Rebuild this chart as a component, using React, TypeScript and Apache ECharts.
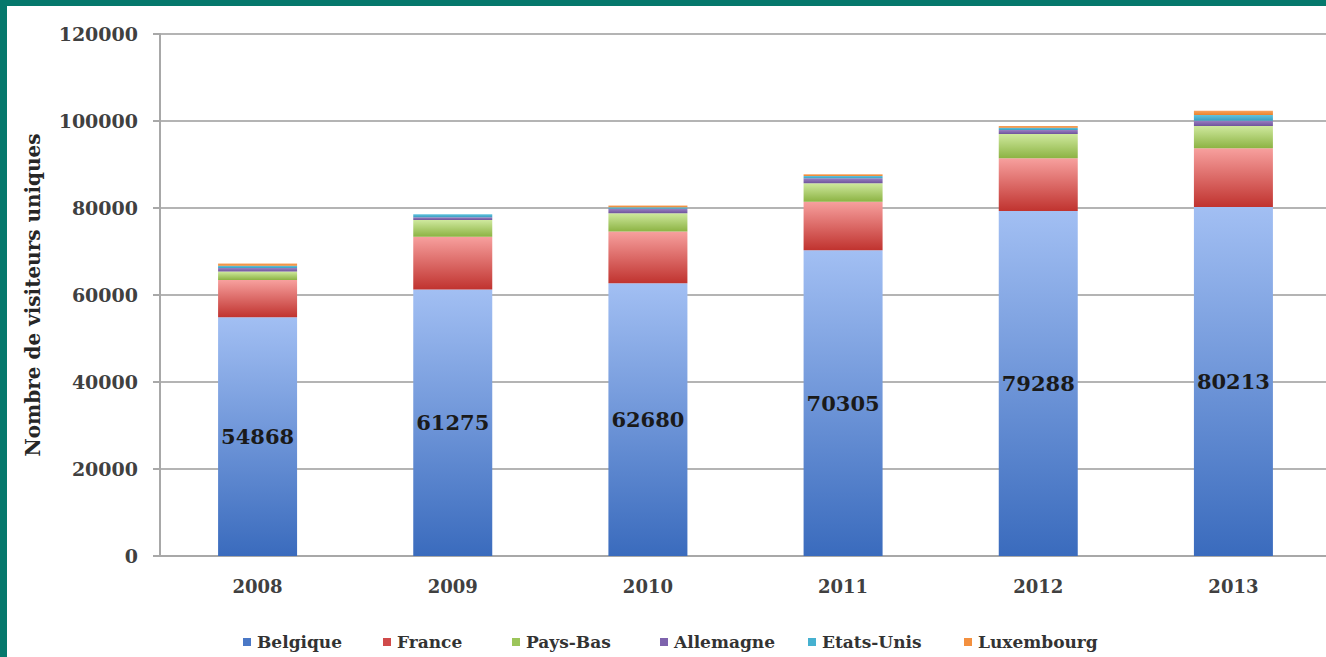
import React, { useEffect, useRef } from "react";
import * as echarts from "echarts";

const years = ["2008", "2009", "2010", "2011", "2012", "2013"];
const seriesNames = ["Belgique", "France", "Pays-Bas", "Allemagne", "Etats-Unis", "Luxembourg"];
const belgique = [54868, 61275, 62680, 70305, 79288, 80213];
const france = [8580, 12130, 11900, 11150, 12140, 13520];
const paysBas = [1950, 3840, 4230, 4230, 5590, 5125];
const allemagne = [800, 650, 1000, 1150, 920, 1220];
const etatsUnis = [500, 660, 380, 500, 500, 1310];
const luxembourg = [550, 0, 370, 420, 420, 990];

const FONT = "DejaVu Serif";

const legendColors = ["#4a78c6", "#d04a4a", "#9cc55a", "#7e63ad", "#46b1d0", "#f3903f"];
const legendX = [243, 383, 512, 660, 808, 964];

function grad(top: string, bottom: string) {
  return new echarts.graphic.LinearGradient(0, 0, 0, 1, [
    { offset: 0, color: top },
    { offset: 1, color: bottom },
  ]);
}

export default function App() {
  const ref = useRef<HTMLDivElement>(null);
  useEffect(() => {
    if (!ref.current) return;
    const chart = echarts.init(ref.current, null, { renderer: "svg" });
    const mk = (name: string, data: number[], top: string, bottom: string, label = false) => ({
      name,
      type: "bar",
      stack: "total",
      data,
      barWidth: 79,
      itemStyle: { color: grad(top, bottom) },
      label: label
        ? {
            show: true,
            position: "inside",
            fontFamily: FONT,
            fontWeight: "bold",
            fontSize: 21,
            color: "#1a1a1a",
          }
        : { show: false },
    });
    const legendGraphics = seriesNames.map((name, i) => ({
      type: "group",
      children: [
        {
          type: "rect",
          shape: { x: legendX[i], y: 638, width: 8, height: 8 },
          style: { fill: legendColors[i] },
        },
        {
          type: "text",
          x: legendX[i] + 14,
          y: 642,
          style: {
            text: name,
            font: "bold 17px 'DejaVu Serif'",
            fontFamily: FONT,
            fontWeight: "bold",
            fontSize: 17,
            fill: "#333333",
            verticalAlign: "middle",
            align: "left",
          },
        },
      ],
    }));
    chart.setOption({
      animation: false,
      backgroundColor: "transparent",
      textStyle: { fontFamily: FONT },
      grid: { left: 160, top: 34, width: 1171, height: 522, outerBoundsMode: "none" },
      legend: { show: false, data: seriesNames },
      graphic: legendGraphics,
      xAxis: {
        type: "category",
        data: years,
        axisLine: { lineStyle: { color: "#a8a8a8", width: 2 } },
        axisTick: { show: false },
        axisLabel: {
          margin: 21,
          fontFamily: FONT,
          fontSize: 18,
          fontWeight: "bold",
          color: "#404040",
        },
      },
      yAxis: {
        type: "value",
        min: 0,
        max: 120000,
        interval: 20000,
        name: "Nombre de visiteurs uniques",
        nameLocation: "middle",
        nameGap: 117,
        nameTextStyle: { fontFamily: FONT, fontSize: 20, fontWeight: "bold", color: "#262626" },
        axisLine: { show: true, lineStyle: { color: "#a8a8a8", width: 2 } },
        axisTick: { show: true, length: 7, lineStyle: { color: "#a8a8a8", width: 2 } },
        axisLabel: {
          margin: 22,
          fontFamily: FONT,
          fontSize: 19,
          fontWeight: "bold",
          color: "#404040",
          formatter: (v: number) => String(v),
        },
        splitLine: { lineStyle: { color: "#b4b4b4", width: 2 } },
      },
      series: [
        mk(seriesNames[0], belgique, "#a2bff3", "#3a6bbd", true),
        mk(seriesNames[1], france, "#f7a09e", "#c0332f"),
        mk(seriesNames[2], paysBas, "#cfe99e", "#8cb343"),
        mk(seriesNames[3], allemagne, "#9a80c2", "#6f549c"),
        mk(seriesNames[4], etatsUnis, "#62c3de", "#3a9fc1"),
        mk(seriesNames[5], luxembourg, "#f9a35e", "#e8842f"),
      ],
    });
    return () => chart.dispose();
  }, []);
  return (
    <div style={{ position: "fixed", left: 0, top: 0, width: 1326, height: 657, background: "#05786c", overflow: "hidden" }}>
      <div style={{ position: "absolute", left: 7, top: 6, right: 0, bottom: 0, background: "#ffffff" }} />
      <div ref={ref} style={{ position: "absolute", left: 0, top: 0, width: 1326, height: 657 }} />
    </div>
  );
}
